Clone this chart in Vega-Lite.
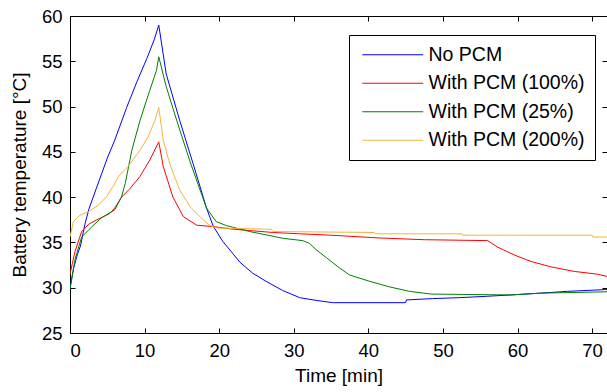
{
  "$schema": "https://vega.github.io/schema/vega-lite/v6.json",
  "width": 537,
  "height": 317,
  "autosize": "none",
  "padding": {"left": 70, "top": 16, "right": 0, "bottom": 59},
  "background": "white",
  "config": {
    "view": {"stroke": null},
    "font": "Liberation Sans",
    "axis": {
      "grid": false,
      "domainColor": "black",
      "domainWidth": 1,
      "tickColor": "black",
      "tickSize": -5,
      "labelColor": "black",
      "titleColor": "black",
      "labelFont": "Liberation Sans",
      "titleFont": "Liberation Sans",
      "labelFontSize": 18.5,
      "titleFontSize": 19,
      "titleFontWeight": "normal"
    }
  },
  "datasets": {
    "curves": [
      {"s": "No PCM", "t": 0, "T": 30.0},
      {"s": "No PCM", "t": 0.5, "T": 32.2},
      {"s": "No PCM", "t": 1.0, "T": 33.7},
      {"s": "No PCM", "t": 1.4, "T": 34.6},
      {"s": "No PCM", "t": 2.0, "T": 37.0},
      {"s": "No PCM", "t": 2.5, "T": 38.6},
      {"s": "No PCM", "t": 3.5, "T": 40.9},
      {"s": "No PCM", "t": 5.0, "T": 44.3},
      {"s": "No PCM", "t": 6.0, "T": 46.3},
      {"s": "No PCM", "t": 7.6, "T": 49.9},
      {"s": "No PCM", "t": 9.0, "T": 52.8},
      {"s": "No PCM", "t": 10.3, "T": 55.3},
      {"s": "No PCM", "t": 11.3, "T": 57.4},
      {"s": "No PCM", "t": 11.9, "T": 59.0},
      {"s": "No PCM", "t": 12.9, "T": 53.6},
      {"s": "No PCM", "t": 14.7, "T": 48.5},
      {"s": "No PCM", "t": 16.5, "T": 43.7},
      {"s": "No PCM", "t": 18.3, "T": 38.8},
      {"s": "No PCM", "t": 19.2, "T": 36.8},
      {"s": "No PCM", "t": 20.5, "T": 35.1},
      {"s": "No PCM", "t": 21.9, "T": 33.7},
      {"s": "No PCM", "t": 22.8, "T": 32.8},
      {"s": "No PCM", "t": 24.5, "T": 31.6},
      {"s": "No PCM", "t": 26.3, "T": 30.7},
      {"s": "No PCM", "t": 28.5, "T": 29.7},
      {"s": "No PCM", "t": 30.8, "T": 28.9},
      {"s": "No PCM", "t": 33.0, "T": 28.6},
      {"s": "No PCM", "t": 35.2, "T": 28.35},
      {"s": "No PCM", "t": 45.0, "T": 28.35},
      {"s": "No PCM", "t": 45.1, "T": 28.65},
      {"s": "No PCM", "t": 48.6, "T": 28.8},
      {"s": "No PCM", "t": 52.2, "T": 28.9},
      {"s": "No PCM", "t": 55.8, "T": 29.05},
      {"s": "No PCM", "t": 59.1, "T": 29.2},
      {"s": "No PCM", "t": 63.1, "T": 29.4},
      {"s": "No PCM", "t": 66.7, "T": 29.6},
      {"s": "No PCM", "t": 72.0, "T": 29.8},

      {"s": "With PCM (100%)", "t": 0, "T": 31.5},
      {"s": "With PCM (100%)", "t": 0.67, "T": 34.0},
      {"s": "With PCM (100%)", "t": 1.56, "T": 36.2},
      {"s": "With PCM (100%)", "t": 2.5, "T": 37.0},
      {"s": "With PCM (100%)", "t": 3.6, "T": 37.5},
      {"s": "With PCM (100%)", "t": 5.35, "T": 38.2},
      {"s": "With PCM (100%)", "t": 6.0, "T": 38.8},
      {"s": "With PCM (100%)", "t": 6.9, "T": 40.0},
      {"s": "With PCM (100%)", "t": 8.0, "T": 40.9},
      {"s": "With PCM (100%)", "t": 9.4, "T": 42.3},
      {"s": "With PCM (100%)", "t": 10.7, "T": 44.1},
      {"s": "With PCM (100%)", "t": 11.9, "T": 46.1},
      {"s": "With PCM (100%)", "t": 12.5, "T": 43.4},
      {"s": "With PCM (100%)", "t": 13.8, "T": 40.0},
      {"s": "With PCM (100%)", "t": 15.2, "T": 37.85},
      {"s": "With PCM (100%)", "t": 17.0, "T": 36.9},
      {"s": "With PCM (100%)", "t": 19.2, "T": 36.75},
      {"s": "With PCM (100%)", "t": 22.0, "T": 36.45},
      {"s": "With PCM (100%)", "t": 27.2, "T": 36.1},
      {"s": "With PCM (100%)", "t": 30.8, "T": 35.95},
      {"s": "With PCM (100%)", "t": 35.0, "T": 35.8},
      {"s": "With PCM (100%)", "t": 41.3, "T": 35.5},
      {"s": "With PCM (100%)", "t": 47.5, "T": 35.3},
      {"s": "With PCM (100%)", "t": 56.0, "T": 35.2},
      {"s": "With PCM (100%)", "t": 57.3, "T": 34.5},
      {"s": "With PCM (100%)", "t": 59.6, "T": 33.6},
      {"s": "With PCM (100%)", "t": 61.8, "T": 32.9},
      {"s": "With PCM (100%)", "t": 64.5, "T": 32.3},
      {"s": "With PCM (100%)", "t": 67.6, "T": 31.8},
      {"s": "With PCM (100%)", "t": 70.7, "T": 31.5},
      {"s": "With PCM (100%)", "t": 72.0, "T": 31.25},

      {"s": "With PCM (25%)", "t": 0, "T": 29.8},
      {"s": "With PCM (25%)", "t": 0.67, "T": 33.1},
      {"s": "With PCM (25%)", "t": 1.56, "T": 35.6},
      {"s": "With PCM (25%)", "t": 2.9, "T": 36.7},
      {"s": "With PCM (25%)", "t": 4.2, "T": 37.7},
      {"s": "With PCM (25%)", "t": 6.0, "T": 38.6},
      {"s": "With PCM (25%)", "t": 6.9, "T": 40.0},
      {"s": "With PCM (25%)", "t": 7.4, "T": 41.5},
      {"s": "With PCM (25%)", "t": 8.3, "T": 45.2},
      {"s": "With PCM (25%)", "t": 9.4, "T": 48.5},
      {"s": "With PCM (25%)", "t": 10.7, "T": 51.8},
      {"s": "With PCM (25%)", "t": 11.6, "T": 54.0},
      {"s": "With PCM (25%)", "t": 11.9, "T": 55.5},
      {"s": "With PCM (25%)", "t": 12.9, "T": 52.2},
      {"s": "With PCM (25%)", "t": 14.3, "T": 48.5},
      {"s": "With PCM (25%)", "t": 16.1, "T": 43.9},
      {"s": "With PCM (25%)", "t": 18.3, "T": 38.8},
      {"s": "With PCM (25%)", "t": 19.6, "T": 37.3},
      {"s": "With PCM (25%)", "t": 21.0, "T": 36.85},
      {"s": "With PCM (25%)", "t": 24.1, "T": 36.2},
      {"s": "With PCM (25%)", "t": 28.6, "T": 35.45},
      {"s": "With PCM (25%)", "t": 31.2, "T": 35.2},
      {"s": "With PCM (25%)", "t": 32.1, "T": 34.9},
      {"s": "With PCM (25%)", "t": 33.0, "T": 34.2},
      {"s": "With PCM (25%)", "t": 34.4, "T": 33.3},
      {"s": "With PCM (25%)", "t": 36.1, "T": 32.2},
      {"s": "With PCM (25%)", "t": 37.5, "T": 31.4},
      {"s": "With PCM (25%)", "t": 40.2, "T": 30.7},
      {"s": "With PCM (25%)", "t": 42.8, "T": 30.1},
      {"s": "With PCM (25%)", "t": 45.5, "T": 29.6},
      {"s": "With PCM (25%)", "t": 48.4, "T": 29.3},
      {"s": "With PCM (25%)", "t": 59.0, "T": 29.2},
      {"s": "With PCM (25%)", "t": 63.1, "T": 29.4},
      {"s": "With PCM (25%)", "t": 72.0, "T": 29.55},

      {"s": "With PCM (200%)", "t": 0, "T": 35.6},
      {"s": "With PCM (200%)", "t": 0.45, "T": 37.3},
      {"s": "With PCM (200%)", "t": 1.34, "T": 38.0},
      {"s": "With PCM (200%)", "t": 2.45, "T": 38.4},
      {"s": "With PCM (200%)", "t": 3.8, "T": 39.1},
      {"s": "With PCM (200%)", "t": 4.9, "T": 40.05},
      {"s": "With PCM (200%)", "t": 5.8, "T": 41.2},
      {"s": "With PCM (200%)", "t": 6.5, "T": 42.3},
      {"s": "With PCM (200%)", "t": 7.8, "T": 43.4},
      {"s": "With PCM (200%)", "t": 9.4, "T": 45.2},
      {"s": "With PCM (200%)", "t": 10.5, "T": 46.7},
      {"s": "With PCM (200%)", "t": 11.4, "T": 48.5},
      {"s": "With PCM (200%)", "t": 11.9, "T": 49.9},
      {"s": "With PCM (200%)", "t": 12.5, "T": 46.3},
      {"s": "With PCM (200%)", "t": 13.4, "T": 43.6},
      {"s": "With PCM (200%)", "t": 14.7, "T": 40.8},
      {"s": "With PCM (200%)", "t": 16.1, "T": 38.95},
      {"s": "With PCM (200%)", "t": 17.4, "T": 37.85},
      {"s": "With PCM (200%)", "t": 18.7, "T": 36.9},
      {"s": "With PCM (200%)", "t": 19.6, "T": 36.6},
      {"s": "With PCM (200%)", "t": 27.0, "T": 36.45},
      {"s": "With PCM (200%)", "t": 27.2, "T": 36.2},
      {"s": "With PCM (200%)", "t": 40.8, "T": 36.1},
      {"s": "With PCM (200%)", "t": 41.0, "T": 35.95},
      {"s": "With PCM (200%)", "t": 52.6, "T": 35.95},
      {"s": "With PCM (200%)", "t": 52.7, "T": 35.8},
      {"s": "With PCM (200%)", "t": 70.0, "T": 35.8},
      {"s": "With PCM (200%)", "t": 70.1, "T": 35.6},
      {"s": "With PCM (200%)", "t": 72.0, "T": 35.6}
    ]
  },
  "data": {"name": "curves"},
  "resolve": {"axis": {"x": "independent", "y": "independent"}},
  "layer": [
    {
      "mark": {"type": "line", "strokeWidth": 1, "clip": true},
      "encoding": {
        "x": {
          "field": "t", "type": "quantitative",
          "scale": {"domain": [0, 72], "nice": false, "zero": false},
          "axis": {"values": [0, 10, 20, 30, 40, 50, 60, 70], "title": "Time [min]", "labelPadding": 13, "titlePadding": 7}
        },
        "y": {
          "field": "T", "type": "quantitative",
          "scale": {"domain": [25, 60], "nice": false, "zero": false},
          "axis": {"values": [25, 30, 35, 40, 45, 50, 55, 60], "title": "Battery temperature [°C]", "labelPadding": 13, "titlePadding": 12}
        },
        "color": {
          "field": "s", "type": "nominal",
          "scale": {
            "domain": ["No PCM", "With PCM (100%)", "With PCM (25%)", "With PCM (200%)"],
            "range": ["#0000ff", "#ff0000", "#008000", "#f2b53a"]
          },
          "legend": {
            "title": null,
            "orient": "none",
            "legendX": 279,
            "legendY": 19,
            "strokeColor": "black",
            "fillColor": "white",
            "padding": 10,
            "symbolType": "M-4,0L4,0",
            "symbolSize": 232,
            "symbolStrokeWidth": 1,
            "symbolOffset": 24,
            "labelFontSize": 19.5,
            "labelFont": "Liberation Sans",
            "labelColor": "black",
            "labelLimit": 0,
            "labelOffset": 26,
            "rowPadding": 7.5
          }
        },
        "order": {"field": "t", "type": "quantitative"}
      }
    },
    {
      "mark": {"type": "line", "strokeOpacity": 0},
      "encoding": {
        "x": {
          "field": "t", "type": "quantitative",
          "axis": {"orient": "top", "values": [0, 10, 20, 30, 40, 50, 60, 70], "labels": false, "title": null}
        },
        "y": {
          "field": "T", "type": "quantitative",
          "axis": {"orient": "right", "values": [25, 30, 35, 40, 45, 50, 55, 60], "labels": false, "title": null}
        },
        "detail": {"field": "s", "type": "nominal"}
      }
    }
  ]
}
